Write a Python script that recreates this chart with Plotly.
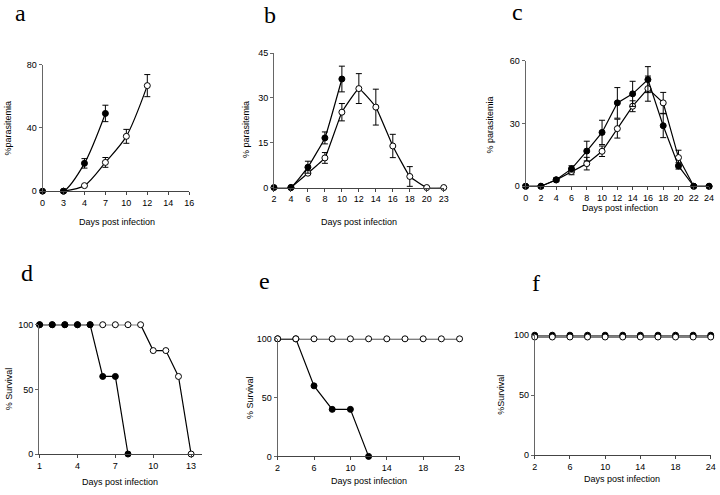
import plotly.graph_objects as go

W, H = 720, 495

# ---------------- data ----------------
# Panel a
a_days = ["0", "3", "4", "7", "10", "12", "14", "16"]
a_filled_x = ["0", "3", "4", "7"]
a_filled_y = [0, 0, 17.6, 49.2]
a_filled_err = [0, 0, 3.0, 5.2]
a_open_x = ["3", "4", "7", "10", "12"]
a_open_y = [0, 3.5, 18.2, 34.7, 66.8]
a_open_err = [0, 0, 3.1, 4.4, 7.0]
a_yticks = [0, 40, 80]

# Panel b
b_days = ["2", "4", "6", "8", "10", "12", "14", "16", "18", "20", "23"]
b_filled_x = ["2", "4", "6", "8", "10"]
b_filled_y = [0, 0, 6.8, 16.6, 36.3]
b_filled_err = [0, 0, 2.0, 2.0, 4.3]
b_open_x = ["4", "6", "8", "10", "12", "14", "16", "18", "20", "23"]
b_open_y = [0, 4.8, 9.9, 25.2, 33.1, 26.9, 13.9, 3.7, 0, 0]
b_open_err = [0, 0, 1.8, 2.9, 5.0, 6.0, 3.9, 3.3, 0, 0]
b_yticks = [0, 15, 30, 45]

# Panel c
c_days = [0, 2, 4, 6, 8, 10, 12, 14, 16, 18, 20, 22, 24]
c_filled_y = [0, 0, 3.1, 8.3, 16.8, 25.7, 39.8, 44.1, 50.9, 28.9, 9.7, 0, 0]
c_filled_err = [0, 0, 0.8, 1.5, 4.7, 5.8, 7.3, 6.0, 6.2, 5.7, 1.5, 0, 0]
c_open_y = [0, 0, 3.0, 7.0, 10.8, 16.7, 27.5, 38.2, 46.6, 39.8, 13.7, 0, 0]
c_open_err = [0, 0, 0.8, 1.5, 3.0, 2.5, 4.5, 2.6, 6.0, 5.0, 3.5, 0, 0]
c_yticks = [0, 30, 60]

# Panel d
d_filled_x = [1, 2, 3, 4, 5, 6, 7, 8]
d_filled_y = [100, 100, 100, 100, 100, 60, 60, 0]
d_open_x = [1, 2, 3, 4, 5, 6, 7, 8, 9, 10, 11, 12, 13]
d_open_y = [100, 100, 100, 100, 100, 100, 100, 100, 100, 80, 80, 60, 0]
d_xticks = [1, 4, 7, 10, 13]

# Panel e
e_days = ["2", "4", "6", "8", "10", "12", "14", "16", "18", "20", "23"]
e_filled_x = ["2", "4", "6", "8", "10", "12"]
e_filled_y = [100, 100, 60, 40, 40, 0]
e_open_y = [100, 100, 100, 100, 100, 100, 100, 100, 100, 100, 100]
e_xticks = ["2", "6", "10", "14", "18", "23"]

# Panel f
f_days = ["2", "4", "6", "8", "10", "12", "14", "16", "18", "20", "24"]
f_filled_y = [100, 100, 100, 100, 100, 100, 100, 100, 100, 100, 100]
f_open_y = [98.5, 98.5, 98.5, 98.5, 98.5, 98.5, 98.5, 98.5, 98.5, 98.5, 98.5]
f_xticks = ["2", "6", "10", "14", "18", "24"]

surv_yticks = [0, 50, 100]

# ---------------- helpers ----------------
def px_x(p):
    return p / W

def px_y(p):
    return 1 - p / H

FONT = "Liberation Sans, Arial, sans-serif"
TICKFONT = dict(family=FONT, size=9, color="#000")

fig = go.Figure()

def series(n, x, y, filled, err=None, shape="linear", smoothing=1.0):
    kw = dict(
        x=x, y=y, mode="lines+markers", xaxis="x" + n, yaxis="y" + n,
        line=dict(color="black", width=1.2, shape=shape, smoothing=smoothing),
        marker=dict(size=6, color="black" if filled else "white",
                    line=dict(color="black", width=1)),
        cliponaxis=False, showlegend=False, hoverinfo="skip",
    )
    if err is not None:
        kw["error_y"] = dict(type="data", array=err, visible=True,
                             color="black", thickness=1, width=3)
    fig.add_trace(go.Scatter(**kw))

axes = {}

def panel(n, xdom_px, ydom_px, xaxis_extra, yaxis_extra):
    x0, x1 = xdom_px
    ybot, ytop = ydom_px
    xa = dict(domain=[px_x(x0), px_x(x1)], anchor="y" + n,
              showline=True, linecolor="#444", linewidth=1,
              ticks="outside", ticklen=3, tickcolor="#444", tickwidth=1,
              tickfont=TICKFONT, showgrid=False, zeroline=False)
    xa.update(xaxis_extra)
    ya = dict(domain=[px_y(ybot), px_y(ytop)], anchor="x" + n,
              showline=True, linecolor="#666", linewidth=1,
              ticks="outside", ticklen=3, tickcolor="#666", tickwidth=1,
              tickfont=TICKFONT, showgrid=False, zeroline=False)
    ya.update(yaxis_extra)
    axes["xaxis" + n] = xa
    axes["yaxis" + n] = ya

# a
panel("", (40, 188.3), (190, 61),
      dict(type="category", categoryorder="array", categoryarray=a_days,
           tickvals=a_days, range=[0, len(a_days) - 1]),
      dict(range=[0, 80], tickvals=a_yticks))
series("", a_open_x, a_open_y, False, a_open_err, "spline", 0.8)
series("", a_filled_x, a_filled_y, True, a_filled_err, "spline", 0.8)

# b
panel("2", (274, 445.7), (186.3, 49),
      dict(type="category", categoryorder="array", categoryarray=b_days,
           tickvals=b_days, range=[0, len(b_days) - 1]),
      dict(range=[0, 45], tickvals=b_yticks))
series("2", b_open_x, b_open_y, False, b_open_err, "spline", 0.3)
series("2", b_filled_x, b_filled_y, True, b_filled_err, "spline", 0.3)

# c
panel("3", (528.5, 714), (185, 56.7),
      dict(range=[0, 24], tickvals=c_days),
      dict(range=[0, 60], tickvals=c_yticks))
series("3", c_days, c_open_y, False, c_open_err)
series("3", c_days, c_filled_y, True, c_filled_err)

# d
panel("4", (36.5, 201.7), (458.3, 326.3),
      dict(range=[0.96, 13.9], tickvals=d_xticks),
      dict(range=[0, 100], tickvals=surv_yticks))
series("4", d_open_x, d_open_y, False)
series("4", d_filled_x, d_filled_y, True)

# e
panel("5", (277.7, 461.7), (460.7, 340.7),
      dict(type="category", categoryorder="array", categoryarray=e_days,
           tickvals=e_xticks, range=[0, len(e_days) - 1]),
      dict(range=[0, 100], tickvals=surv_yticks))
series("5", e_filled_x, e_filled_y, True)
series("5", e_days, e_open_y, False)

# f
panel("6", (537.7, 715.7), (459.3, 337),
      dict(type="category", categoryorder="array", categoryarray=f_days,
           tickvals=f_xticks, range=[0, len(f_days) - 1]),
      dict(range=[0, 100], tickvals=surv_yticks))
series("6", f_days, f_filled_y, True)
series("6", f_days, f_open_y, False)

# ---------------- text ----------------
annots = []

def text(s, xp, yp, size=9, angle=0, family=FONT):
    annots.append(dict(text=s, x=px_x(xp), y=px_y(yp), xref="paper", yref="paper",
                       showarrow=False, xanchor="center", yanchor="middle",
                       textangle=angle, font=dict(family=family, size=size, color="#000")))

SERIF = "Liberation Serif, Times New Roman, serif"
text("a", 18, 8, 24, family=SERIF)
text("b", 270, 10, 24, family=SERIF)
text("c", 520, 7, 24, family=SERIF)
text("d", 24, 274, 24, family=SERIF)
text("e", 264, 282, 24, family=SERIF)
text("f", 539, 284, 24, family=SERIF)

text("%parasitemia", 6, 125, angle=-90)
text("% parasitemia", 245.5, 126.7, angle=-90)
text("% parasitemia", 492, 122.5, angle=-90)
text("% Survival", 5.5, 391.7, angle=-90)
text("% Survival", 249, 400.8, angle=-90)
text("%Survival", 504, 397.5, angle=-90)

text("Days post infection", 115, 221.7)
text("Days post infection", 360.5, 221.7)
text("Days post infection", 624, 207)
text("Days post infection", 118.3, 487)
text("Days post infection", 369.7, 485.8)
text("Days post infection", 625.8, 484)

fig.update_layout(
    width=W, height=H, margin=dict(l=0, r=0, t=0, b=0),
    paper_bgcolor="white", plot_bgcolor="white",
    showlegend=False, annotations=annots, **axes,
)

fig.write_html("out.html", config={"displayModeBar": False},
               post_script="document.body.style.margin='0';document.body.style.padding='0';")
